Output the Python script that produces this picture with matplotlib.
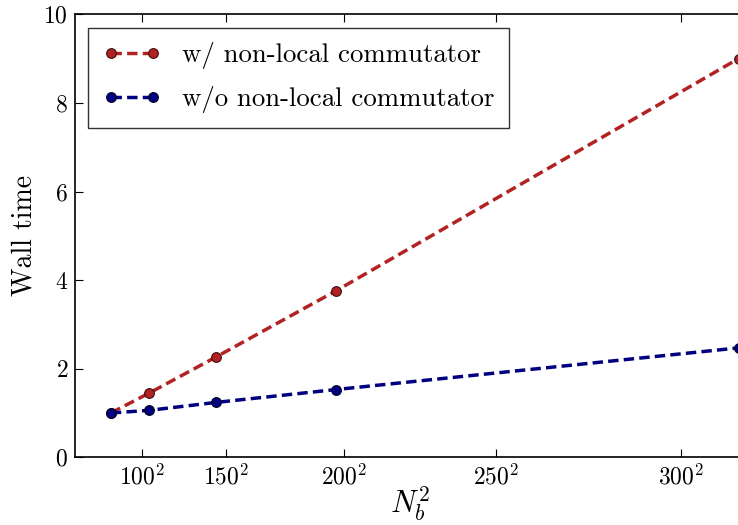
import numpy as np
import matplotlib
matplotlib.use("Agg")
import matplotlib.pyplot as plt

plt.rcParams['font.family'] = 'serif'
plt.rcParams['font.serif'] = ['cmr10']
plt.rcParams['mathtext.fontset'] = 'cm'
plt.rcParams['axes.formatter.use_mathtext'] = True

# basis size N_b and measured wall times (normalised to the smallest run)
nb = np.array([73, 105, 145, 197, 314])
t_nonlocal = [1.0, 1.45, 2.27, 3.76, 9.0]
t_local = [1.0, 1.06, 1.24, 1.53, 2.47]

xtick_nb = [100, 150, 200, 250, 300]
labels = ["w/ non-local commutator", "w/o non-local commutator"]

fig = plt.figure(figsize=(7.38, 5.25), dpi=100)
ax = fig.add_axes([75/738, 1 - 457.3/525, 673/738, (457.3 - 14.3)/525])

ax.plot(nb**2, t_nonlocal, '--o', color='#b22222', lw=2.5, ms=7,
        mec='#3a1010', mew=0.8, label=labels[0], clip_on=False, dashes=(3, 1.5))
ax.plot(nb**2, t_local, '--o', color='#000080', lw=2.5, ms=7,
        mec='#000020', mew=0.8, label=labels[1], clip_on=False, dashes=(3, 1.5))

ax.set_xlim(0, 100000)
ax.set_ylim(0, 10)
ax.set_xticks([n**2 for n in xtick_nb])
ax.set_xticklabels([r'$%d^2$' % n for n in xtick_nb])
ax.set_yticks([0, 2, 4, 6, 8, 10])
ax.tick_params(direction='in', top=True, right=True, length=6, width=0.8,
               labelsize=17, pad=5)
for s in ax.spines.values():
    s.set_linewidth(1.2)

ax.set_xlabel(r'$N_b^2$', fontsize=22)
ax.xaxis.set_label_coords(0.498, -0.06)
ax.set_ylabel('Wall time', fontsize=20, labelpad=4)

leg = ax.legend(loc='upper left', fontsize=19.3, numpoints=2, handlelength=2.15,
                handletextpad=0.8, borderaxespad=0.5, labelspacing=0.62,
                borderpad=0.55, fancybox=False, edgecolor='black')
leg.get_frame().set_linewidth(1.0)

fig.savefig('out.png', dpi=100)
